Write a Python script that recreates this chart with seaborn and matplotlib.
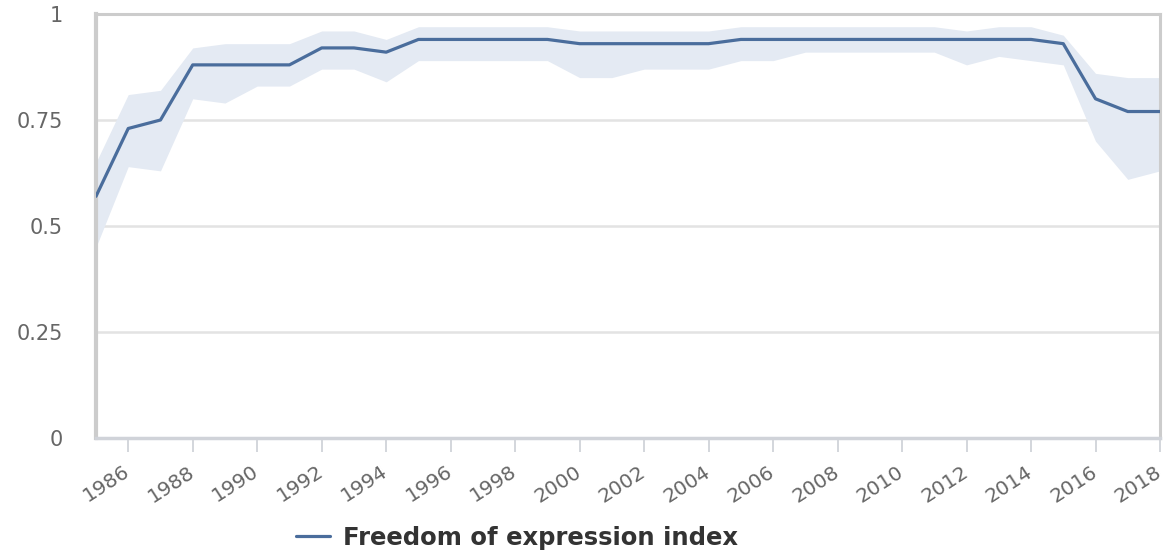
import numpy as np
import pandas as pd
import matplotlib
matplotlib.use("Agg")
import matplotlib.pyplot as plt
import seaborn as sns

years = list(range(1985, 2019))
index_values = [0.57, 0.73, 0.75, 0.88, 0.88, 0.88, 0.88, 0.92, 0.92, 0.91,
                0.94, 0.94, 0.94, 0.94, 0.94, 0.93, 0.93, 0.93, 0.93, 0.93,
                0.94, 0.94, 0.94, 0.94, 0.94, 0.94, 0.94, 0.94, 0.94, 0.94,
                0.93, 0.80, 0.77, 0.77]
upper_values = [0.65, 0.81, 0.82, 0.92, 0.93, 0.93, 0.93, 0.96, 0.96, 0.94,
                0.97, 0.97, 0.97, 0.97, 0.97, 0.96, 0.96, 0.96, 0.96, 0.96,
                0.97, 0.97, 0.97, 0.97, 0.97, 0.97, 0.97, 0.96, 0.97, 0.97,
                0.95, 0.86, 0.85, 0.85]
lower_values = [0.45, 0.64, 0.63, 0.80, 0.79, 0.83, 0.83, 0.87, 0.87, 0.84,
                0.89, 0.89, 0.89, 0.89, 0.89, 0.85, 0.85, 0.87, 0.87, 0.87,
                0.89, 0.89, 0.91, 0.91, 0.91, 0.91, 0.91, 0.88, 0.90, 0.89,
                0.88, 0.70, 0.61, 0.63]
xtick_labels = list(range(1986, 2019, 2))
ytick_values = [0, 0.25, 0.5, 0.75, 1]
ytick_labels = ["0", "0.25", "0.5", "0.75", "1"]
series_name = "Freedom of expression index"

df = pd.DataFrame({"year": years, "value": index_values,
                   "upper": upper_values, "lower": lower_values})

sns.set_theme(style="white")
plt.rcParams['font.family'] = ['DejaVu Sans']

fig = plt.figure(figsize=(11.71, 5.5), dpi=100)
ax = fig.add_axes([96/1171, 1-438/550, (1160-96)/1171, (438-14)/550])

line_color = "#4a6d9c"
ax.fill_between(df["year"], df["lower"], df["upper"], color="#e4eaf3", lw=0, zorder=1)
sns.lineplot(data=df, x="year", y="value", ax=ax, color=line_color, lw=2.3,
             label=series_name, zorder=3)

ax.set_xlim(1985, 2018)
ax.set_ylim(0, 1)
ax.set_xlabel("")
ax.set_ylabel("")

ax.set_yticks(ytick_values)
ax.set_yticklabels(ytick_labels)
for y in [0.25, 0.5, 0.75]:
    ax.axhline(y, color="#e3e3e3", lw=1.8, zorder=0)

ax.set_xticks(xtick_labels)
ax.set_xticklabels([str(v) for v in xtick_labels], rotation=33, ha="right",
                   va="center", rotation_mode="anchor")

ax.tick_params(axis="y", length=0, pad=24, labelsize=15, labelcolor="#666666")
ax.tick_params(axis="x", length=10, width=1.3, color="#d0d3d9", pad=13,
               labelsize=14.5, labelcolor="#666666", bottom=True)

for side in ["top", "right"]:
    ax.spines[side].set_color("#cccccc")
    ax.spines[side].set_linewidth(2.2)
ax.spines["left"].set_color("#cccccc")
ax.spines["left"].set_linewidth(3)
ax.spines["bottom"].set_color("#d0d3d9")
ax.spines["bottom"].set_linewidth(2.5)

leg = ax.legend(loc="center", bbox_to_anchor=(517/1171, 1-538/550),
                bbox_transform=fig.transFigure, frameon=False,
                prop={"weight": "bold", "size": 17.5}, handlelength=1.4,
                handletextpad=0.5)
for t in leg.get_texts():
    t.set_color("#333333")

fig.savefig("out.png", dpi=100, facecolor="white")
